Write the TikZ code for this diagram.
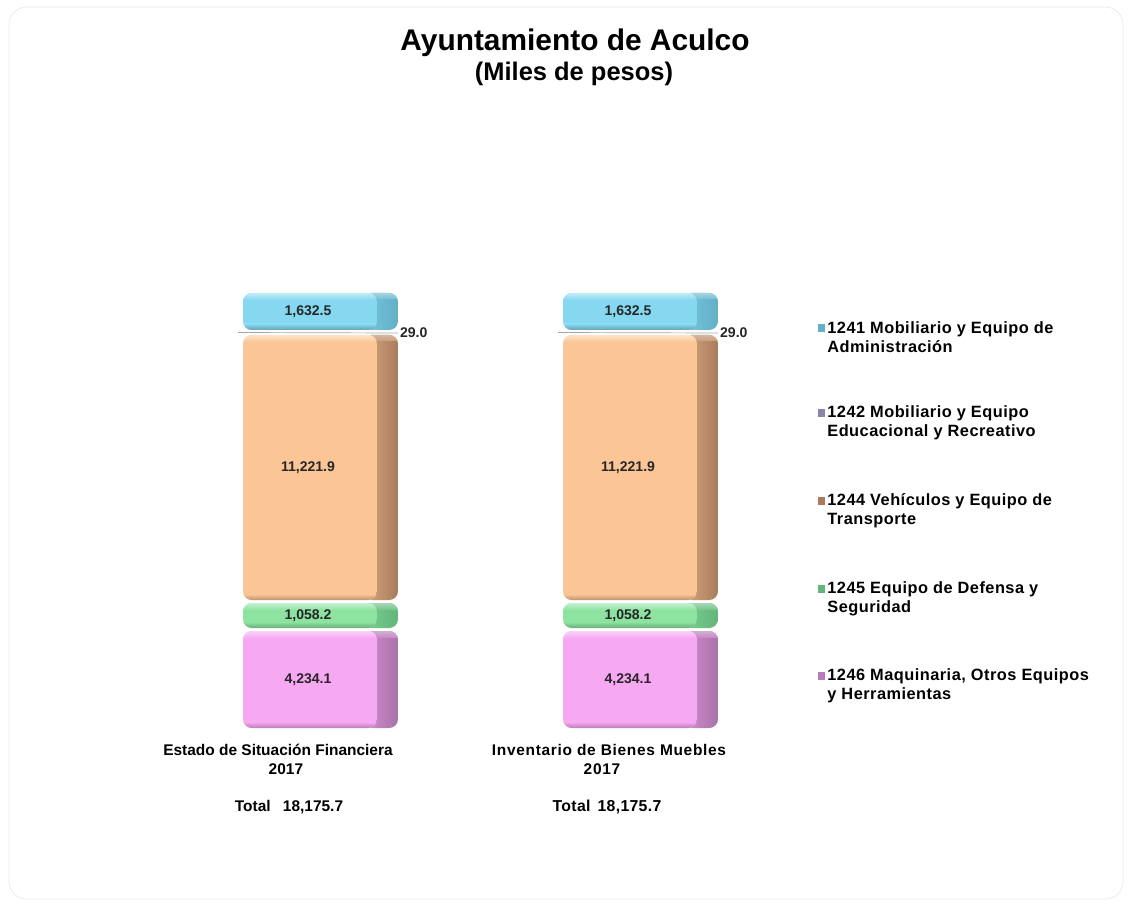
\documentclass[tikz,border=0pt]{standalone}
\usepackage{fontspec}
\setmainfont{Liberation Sans}
\definecolor{cyanfront}{HTML}{86D8F0}
\definecolor{cyanside}{HTML}{62AFC6}
\definecolor{orangefront}{HTML}{FCC596}
\definecolor{orangeside}{HTML}{A87C5C}
\definecolor{greenfront}{HTML}{8DE3A0}
\definecolor{greenside}{HTML}{63B57A}
\definecolor{pinkfront}{HTML}{F7A8F2}
\definecolor{pinkside}{HTML}{A872A8}
\definecolor{purplekey}{HTML}{8A84A8}
\tikzset{
  vallbl/.style={font=\fontsize{8}{9}\selectfont\bfseries, text=black!85, inner sep=1pt},
  catlbl/.style={font=\fontsize{8.8}{10.8}\selectfont\bfseries, align=center, inner sep=0pt},
  leglbl/.style={font=\fontsize{9.3}{10.8}\selectfont\bfseries\addfontfeatures{LetterSpace=3}, anchor=west, align=left, inner sep=0pt},
  legkey/.style={minimum size=4pt, inner sep=0pt}
}
\newcommand{\barseg}[7]{%
  \begin{scope}
    \clip[rounded corners=5pt] (#2,#3) rectangle (#2+155,#4);
    \shade[left color=#6!55!#5, right color=#6] (#2+128,#3) rectangle (#2+155,#4);
    \shade[top color=#6!55!white, bottom color=#6!55!#5] (#2+128,#3) rectangle (#2+155,#3+6);
  \end{scope}
  \begin{scope}
    \clip[rounded corners=5pt] (#2,#3) rectangle (#2+134,#4);
    \fill[#5] (#2,#3) rectangle (#2+134,#4);
    \shade[top color=#5!50!white, bottom color=#5] (#2,#3) rectangle (#2+134,#3+7);
    \shade[top color=#5, bottom color=#5!75!black] (#2,#4-6) rectangle (#2+134,#4);
  \end{scope}
  \node[vallbl] (#1) at (#2+65,{(#3+#4)/2}) {#7};
}
\begin{document}
\begin{tikzpicture}[x=0.02cm, y=-0.02cm]
    \useasboundingbox (0,0) rectangle (1131,908);
    \draw [black!9, rounded corners=10pt] (9,7) rectangle (1123,899);
    \node [font=\fontsize{17}{20}\selectfont\bfseries] (title) at (575,43) {Ayuntamiento de Aculco};
    \node [font=\fontsize{14.5}{17}\selectfont\bfseries] (subtitle) at (574,74) {(Miles de pesos)};
    % left bar
    \barseg{a1}{243}{293}{330}{cyanfront}{cyanside}{1,632.5}
    \barseg{a3}{243}{335}{600}{orangefront}{orangeside}{11,221.9}
    \barseg{a4}{243}{603}{628}{greenfront}{greenside}{1,058.2}
    \barseg{a5}{243}{631}{728}{pinkfront}{pinkside}{4,234.1}
    \coordinate (a2in) at (238,332.5);
    \node [vallbl, anchor=west] (a2) at (398,333) {29.0};
    \draw [black!35, line width=0.4pt] (a2in) -- (a2.west);
    % right bar
    \barseg{b1}{563}{293}{330}{cyanfront}{cyanside}{1,632.5}
    \barseg{b3}{563}{335}{600}{orangefront}{orangeside}{11,221.9}
    \barseg{b4}{563}{603}{628}{greenfront}{greenside}{1,058.2}
    \barseg{b5}{563}{631}{728}{pinkfront}{pinkside}{4,234.1}
    \coordinate (b2in) at (558,332.5);
    \node [vallbl, anchor=west] (b2) at (718,333) {29.0};
    \draw [black!35, line width=0.4pt] (b2in) -- (b2.west);
    % categories
    \node [catlbl] (cat1) at (278,759.5) {Estado de Situación Financiera\\\hspace*{9pt}2017};
    \node [catlbl, font=\fontsize{8.8}{10.8}\selectfont\bfseries\addfontfeatures{LetterSpace=4.5}] (cat2) at (609,759.5) {Inventario de Bienes Muebles\\2017\hspace*{8pt}};
    \node [catlbl] (tot1) at (289,807) {Total\hspace{7pt}18,175.7};
    \node [catlbl, font=\fontsize{9}{10.8}\selectfont\bfseries\addfontfeatures{LetterSpace=2}] (tot2) at (607,807) {Total\hspace{4pt}18,175.7};
    % legend
    \node [legkey, fill=cyanside] (k1) at (821,328) {};
    \node [legkey, fill=purplekey] (k2) at (821,413) {};
    \node [legkey, fill=orangeside] (k3) at (821,501) {};
    \node [legkey, fill=greenside] (k4) at (821,589) {};
    \node [legkey, fill=pinkside!80!pinkfront] (k5) at (821,676) {};
    \node [leglbl] (l1) at (827,337.5) {1241 Mobiliario y Equipo de\\Administración};
    \node [leglbl] (l2) at (827,423) {1242 Mobiliario y Equipo\\Educacional y Recreativo};
    \node [leglbl] (l3) at (827,510.5) {1244 Vehículos y Equipo de\\Transporte};
    \node [leglbl] (l4) at (827,598.5) {1245 Equipo de Defensa y\\Seguridad};
    \node [leglbl] (l5) at (827,685.5) {1246 Maquinaria, Otros Equipos\\y Herramientas};
\end{tikzpicture}
\end{document}
